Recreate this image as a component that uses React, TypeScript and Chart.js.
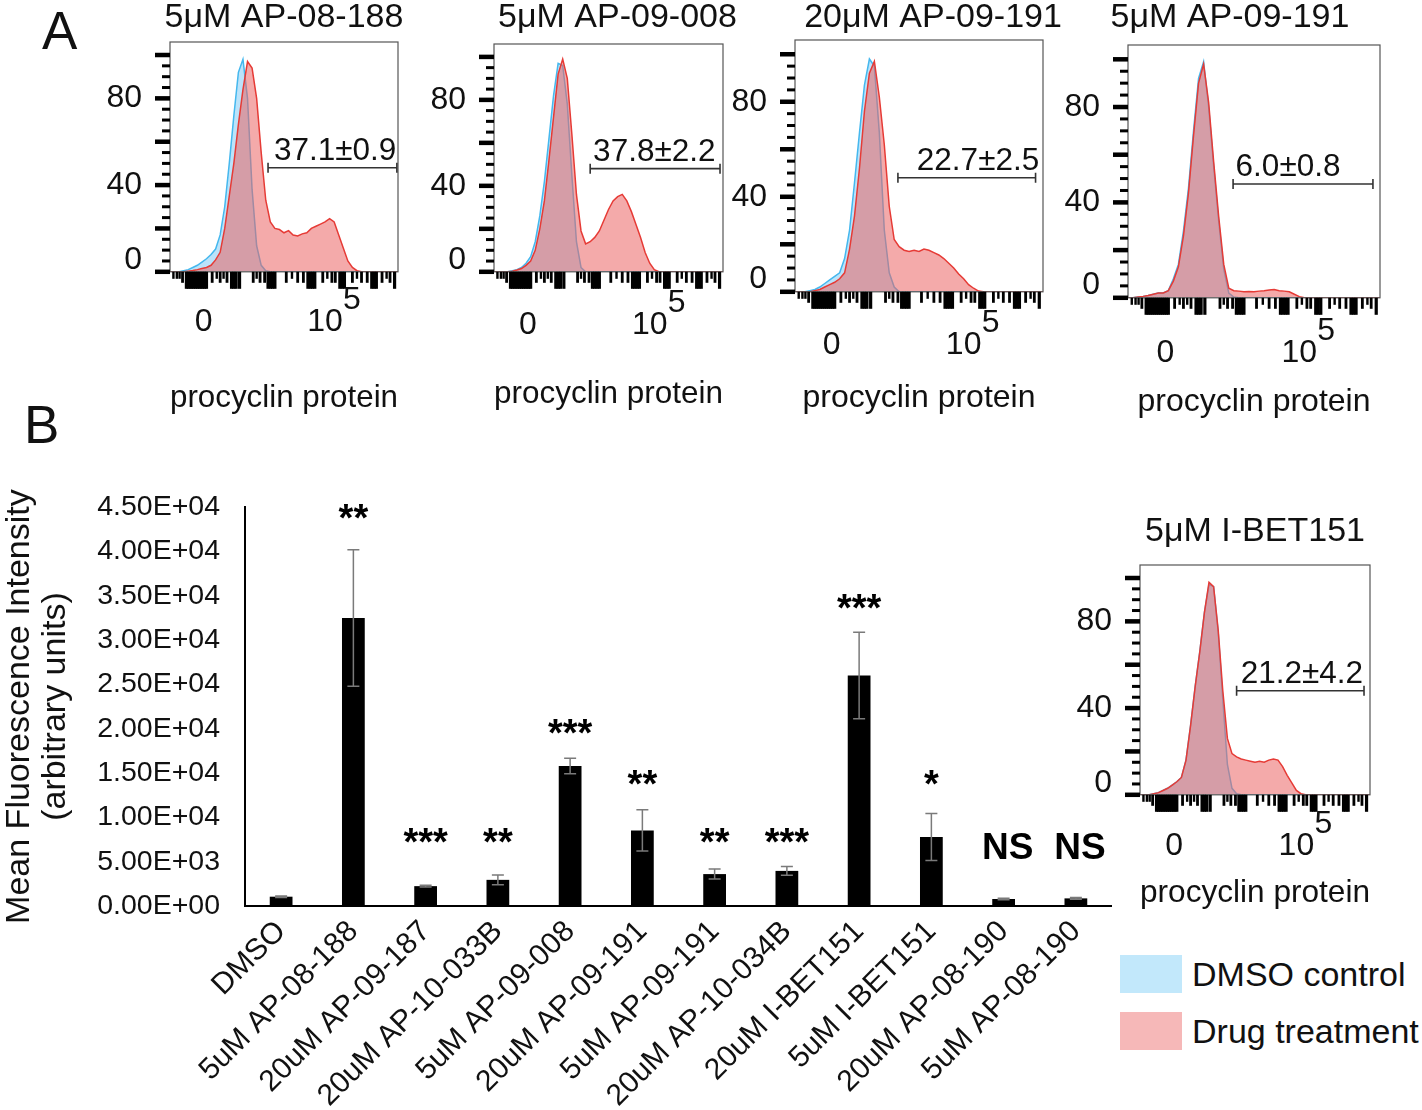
import React, { useEffect, useRef } from 'react';
import { Chart, registerables } from 'chart.js';
Chart.register(...registerables);

const FF = '"Liberation Sans", Arial, Helvetica, sans-serif';
Chart.defaults.font.family = FF;

// ---------- histogram data (x in % of axis width, y = % of max) ----------
const binX = [0, 2, 4, 6, 8, 10, 12, 14, 16, 18, 20, 22, 24, 26, 28, 30, 32, 34, 36, 38, 40, 42, 44, 46, 48, 50,
  52, 54, 56, 58, 60, 62, 64, 66, 68, 70, 72, 74, 76, 78, 80, 82, 84, 86, 88, 90, 92, 94, 96, 98, 100];

const p1Blue = [0, 0, 0, 0.5, 1, 2, 3, 4.5, 6, 8, 10.5, 17, 30, 50, 72, 92, 98, 80, 38, 12, 3, 0.5,
  0, 0, 0, 0, 0, 0, 0, 0, 0, 0, 0, 0, 0, 0, 0, 0, 0, 0, 0, 0, 0, 0, 0, 0, 0, 0, 0, 0, 0];
const p1Red = [0, 0, 0, 0, 0.3, 0.6, 1, 1.5, 2, 3, 5.5, 9, 20, 35, 50, 68, 84, 97, 94, 80, 55, 33, 23, 20, 19.5, 18,
  19, 17, 16.5, 17.5, 18, 20, 21, 22, 23, 24.5, 23, 17, 11, 5, 2, 0.5, 0, 0, 0, 0, 0, 0, 0, 0, 0];

const p2Blue = [0, 0, 0, 0, 0.5, 1, 2, 4, 7, 14, 26, 42, 62, 82, 97, 96, 78, 45, 14, 2, 0,
  0, 0, 0, 0, 0, 0, 0, 0, 0, 0, 0, 0, 0, 0, 0, 0, 0, 0, 0, 0, 0, 0, 0, 0, 0, 0, 0, 0, 0, 0];
const p2Red = [0, 0, 0, 0, 0.3, 0.8, 1.5, 3, 5, 10, 20, 33, 52, 72, 92, 99, 90, 64, 36, 19, 13, 14, 16, 19, 24, 29,
  33, 35, 36, 33, 28, 22, 16, 9, 4, 1, 0, 0, 0, 0, 0, 0, 0, 0, 0, 0, 0, 0, 0, 0, 0];

const p3Blue = [0, 0, 0, 0.5, 1, 2, 3.5, 5, 6.5, 8, 14, 26, 46, 67, 87, 98, 95, 67, 26, 8, 2, 0,
  0, 0, 0, 0, 0, 0, 0, 0, 0, 0, 0, 0, 0, 0, 0, 0, 0, 0, 0, 0, 0, 0, 0, 0, 0, 0, 0, 0, 0];
const p3Red = [0, 0, 0, 0, 0.5, 1, 2, 3, 4, 5.5, 8, 18, 32, 52, 76, 92, 97, 82, 62, 36, 22, 19, 17.5, 17, 17.5, 17,
  18, 17.5, 16.5, 15.5, 14, 12, 10, 7.5, 5.5, 3, 1.5, 0.3, 0, 0, 0, 0, 0, 0, 0, 0, 0, 0, 0, 0, 0];

const p4Blue = [0, 0, 0.3, 0.6, 1, 1.5, 2, 2, 3, 8, 14, 28, 46, 70, 92, 99, 80, 55, 32, 12, 2, 0.3,
  0, 0, 0, 0, 0, 0, 0, 0, 0, 0, 0, 0, 0, 0, 0, 0, 0, 0, 0, 0, 0, 0, 0, 0, 0, 0, 0, 0, 0];
const p4Red = [0, 0, 0.3, 0.6, 1, 1.5, 2, 2, 3, 7, 13, 26, 44, 68, 90, 98, 82, 57, 34, 14, 4, 3, 2.8, 2.5, 2.6, 2.5,
  2.8, 3, 3.3, 3.5, 3, 2.8, 2.5, 1.5, 0.5, 0, 0, 0, 0, 0, 0, 0, 0, 0, 0, 0, 0, 0, 0, 0, 0];

const p5Blue = [0, 0, 0, 0.5, 1, 2, 3, 4.5, 6, 8, 16, 32, 50, 66, 84, 97, 96, 75, 44, 14, 3, 0.5,
  0, 0, 0, 0, 0, 0, 0, 0, 0, 0, 0, 0, 0, 0, 0, 0, 0, 0, 0, 0, 0, 0, 0, 0, 0, 0, 0, 0, 0];
const p5Red = [0, 0, 0, 0.5, 1, 2, 3, 4.5, 6, 8, 16, 32, 50, 66, 84, 98, 96, 76, 48, 26, 19, 17.5, 16.5, 16, 15.5, 15,
  15.5, 15, 16, 16.5, 16, 13, 9, 5.5, 2, 0.5, 0, 0, 0, 0, 0, 0, 0, 0, 0, 0, 0, 0, 0, 0, 0];

const histTitles = ['5μM AP-08-188', '5μM AP-09-008', '20μM AP-09-191', '5μM AP-09-191', '5μM I-BET151'];
const histBlue = [p1Blue, p2Blue, p3Blue, p4Blue, p5Blue];
const histRed = [p1Red, p2Red, p3Red, p4Red, p5Red];
const gateStart = [43, 42, 41.5, 41.7, 42];
const gateEnd = [99.5, 98.7, 97, 97.2, 97.4];
const gateLevel = [48, 48, 48, 47.7, 48];
const gateText = ['37.1±0.9', '37.8±2.2', '22.7±2.5', '6.0±0.8', '21.2±4.2'];
const gateTextX = [72.4, 70, 73.8, 63.5, 70.4];

// y tick labels sit slightly above the true zero in the original figure
const histYLabelPos = [5.5, 40, 80];
const histYLabelText = ['0', '40', '80'];
const histYMarks = [0, 5, 10, 15, 20, 25, 30, 35, 40, 45, 50, 55, 60, 65, 70, 75, 80, 85, 90, 95, 100];
const histYMajorMarks = [0, 20, 40, 60, 80, 100];
const histXTickVals = [14.8, 68];
const histXTickLabels = ['0', '10'];
const histXExponent = '5';
const histXLongMarks = [7.2, 8, 8.8, 9.6, 10.4, 11.2, 12, 12.8, 13.6, 14.4, 15.2, 16, 27, 28, 29, 30.5, 43, 44, 45,
  46, 60.5, 61.5, 62.5, 63.5, 74.5, 75.5, 76.5, 88.5, 89.5, 90.5, 98.5];
const histXMidMarks = [5.5, 18.5, 22, 25, 36.5, 39.5, 41.5, 51, 56, 58.5, 67, 71, 72.5, 80, 84, 86.5, 93, 96.5];
const histXShortMarks = [1.5, 3, 4.2, 20.5, 23.5, 38, 53.5, 69, 82, 95];

// layout of the five histogram panels (plot box in page px)
const panels = [
  { l: 170, t: 42, w: 228, h: 230, titleGap: 24, titleDx: 0, labelGap: 50, titleBelow: 126 },
  { l: 494, t: 44, w: 229, h: 228, titleGap: 26, titleDx: 9, labelGap: 53, titleBelow: 122 },
  { l: 795, t: 40, w: 248, h: 252, titleGap: 22, titleDx: 14, labelGap: 53, titleBelow: 106 },
  { l: 1128, t: 45, w: 252, h: 253, titleGap: 27, titleDx: -24, labelGap: 55, titleBelow: 104 },
  { l: 1140, t: 565, w: 230, h: 230, titleGap: 33, titleDx: 0, labelGap: 51, titleBelow: 98 },
];

// ---------- bar chart data ----------
const barCategories = ['DMSO', '5uM AP-08-188', '20uM AP-09-187', '20uM AP-10-033B', '5uM AP-09-008',
  '20uM AP-09-191', '5uM AP-09-191', '20uM AP-10-034B', '20uM I-BET151', '5uM I-BET151',
  '20uM AP-08-190', '5uM AP-08-190'];
const barValues = [1050, 32500, 2240, 2950, 15800, 8530, 3600, 3960, 26000, 7780, 790, 860];
const barErrors = [80, 7700, 100, 560, 870, 2330, 560, 500, 4870, 2660, 80, 90];
const sigLabels = ['', '**', '***', '**', '***', '**', '**', '***', '***', '*', 'NS', 'NS'];
const sigLevels = [0, 44140, 7520, 7520, 19870, 14060, 7520, 7520, 34010, 14060, 6730, 6730];
const barYTicks = [0, 5000, 10000, 15000, 20000, 25000, 30000, 35000, 40000, 45000];

const BLUE_FILL = 'rgba(120,200,245,0.5)';
const BLUE_LINE = '#45b8ee';
const RED_FILL = 'rgba(235,100,100,0.55)';
const RED_LINE = '#e63b36';

const YW = 70;
const PAD_TOP = 48;
const PAD_RIGHT = 32;
const XFONT = 32;
const XLH = XFONT * 1.2;

function fmtSci(v: number) {
  if (v === 0) return '0.00E+00';
  const e = Math.floor(Math.log10(v));
  const m = v / Math.pow(10, e);
  return m.toFixed(2) + 'E+' + String(e).padStart(2, '0');
}

function HistPanel({ idx }: { idx: number }) {
  const ref = useRef<HTMLCanvasElement>(null);
  const p = panels[idx];
  const XH = p.titleBelow + XLH / 2;
  const cw = YW + p.w + PAD_RIGHT;
  const ch = PAD_TOP + p.h + XH;
  useEffect(() => {
    const decor = {
      id: 'histDecor' + idx,
      afterDraw(chart: any) {
        const { ctx, chartArea: a, scales } = chart;
        const x = scales.x, y = scales.y;
        ctx.save();
        ctx.strokeStyle = '#555';
        ctx.lineWidth = 1.2;
        ctx.strokeRect(a.left, a.top, a.right - a.left, a.bottom - a.top);
        ctx.fillStyle = '#000';
        histYMarks.forEach((v) => {
          const py = y.getPixelForValue(v);
          const major = histYMajorMarks.includes(v);
          const len = major ? 15 : 8;
          const w = major ? 4.5 : 3;
          ctx.fillRect(a.left - len, py - w / 2, len, w);
        });
        histXLongMarks.forEach((v) => {
          const px = x.getPixelForValue(v);
          ctx.fillRect(px - 1.6, a.bottom, 3.2, 17);
        });
        histXMidMarks.forEach((v) => {
          const px = x.getPixelForValue(v);
          ctx.fillRect(px - 1.4, a.bottom, 2.8, 11);
        });
        histXShortMarks.forEach((v) => {
          const px = x.getPixelForValue(v);
          ctx.fillRect(px - 1.2, a.bottom, 2.4, 7);
        });
        // gate
        const gx1 = x.getPixelForValue(gateStart[idx]);
        const gx2 = x.getPixelForValue(gateEnd[idx]);
        const gy = y.getPixelForValue(gateLevel[idx]);
        ctx.strokeStyle = '#333';
        ctx.lineWidth = 1.6;
        ctx.beginPath();
        ctx.moveTo(gx1, gy); ctx.lineTo(gx2, gy);
        ctx.moveTo(gx1, gy - 5); ctx.lineTo(gx1, gy + 5);
        ctx.moveTo(gx2, gy - 5); ctx.lineTo(gx2, gy + 5);
        ctx.stroke();
        ctx.fillStyle = '#111';
        ctx.font = '31.5px ' + FF;
        ctx.textAlign = 'center';
        ctx.textBaseline = 'alphabetic';
        ctx.fillText(gateText[idx], x.getPixelForValue(gateTextX[idx]), gy - 8);
        // title
        ctx.font = '34px ' + FF;
        ctx.textBaseline = 'middle';
        ctx.fillText(histTitles[idx], (a.left + a.right) / 2 + p.titleDx, a.top - p.titleGap);
        // exponent on 10^5
        const ex = x.getPixelForValue(histXTickVals[1]);
        ctx.font = XFONT + 'px ' + FF;
        ctx.textAlign = 'left';
        ctx.fillText(histXExponent, ex + 18, a.bottom + p.labelGap - 22);
        ctx.restore();
      },
    };
    const chart = new Chart(ref.current as HTMLCanvasElement, {
      type: 'line',
      data: {
        datasets: [
          {
            label: 'Drug treatment',
            data: binX.map((v, i) => ({ x: v, y: histRed[idx][i] })),
            borderColor: RED_LINE, backgroundColor: RED_FILL, borderWidth: 1.5,
            fill: 'origin', pointRadius: 0, tension: 0,
          },
          {
            label: 'DMSO control',
            data: binX.map((v, i) => ({ x: v, y: histBlue[idx][i] })),
            borderColor: BLUE_LINE, backgroundColor: BLUE_FILL, borderWidth: 1.5,
            fill: 'origin', pointRadius: 0, tension: 0,
          },
        ],
      },
      options: {
        responsive: false,
        animation: false,
        layout: { padding: { top: PAD_TOP, right: PAD_RIGHT, left: 0, bottom: 0 } },
        plugins: { legend: { display: false }, tooltip: { enabled: false } },
        scales: {
          x: {
            type: 'linear', min: 0, max: 100,
            grid: { display: false, drawTicks: false },
            border: { display: false },
            afterBuildTicks: (s: any) => { s.ticks = histXTickVals.map((v) => ({ value: v })); },
            afterFit: (s: any) => { s.height = XH; },
            ticks: {
              autoSkip: false, maxRotation: 0, padding: p.labelGap - XLH / 2,
              color: '#111', font: { size: XFONT },
              callback: (_v: any, i: number) => histXTickLabels[i],
            },
            title: { display: true, text: 'procyclin protein', color: '#111', font: { size: XFONT }, padding: { top: 0, bottom: 0 } },
          },
          y: {
            min: 0, max: 106,
            grid: { display: false, drawTicks: false },
            border: { display: false },
            afterBuildTicks: (s: any) => { s.ticks = histYLabelPos.map((v) => ({ value: v })); },
            afterFit: (s: any) => { s.width = YW; },
            ticks: {
              padding: 28, color: '#111', font: { size: XFONT },
              callback: (_v: any, i: number) => histYLabelText[i],
            },
          },
        },
      },
      plugins: [decor],
    } as any);
    return () => chart.destroy();
  }, []);
  return (
    <canvas ref={ref} width={cw} height={ch}
      style={{ position: 'absolute', left: p.l - YW, top: p.t - PAD_TOP, width: cw, height: ch }} />
  );
}

function BarPanel() {
  const ref = useRef<HTMLCanvasElement>(null);
  useEffect(() => {
    const decor = {
      id: 'barDecor',
      afterDatasetsDraw(chart: any) {
        const { ctx, scales } = chart;
        const x = scales.x, y = scales.y;
        ctx.save();
        ctx.strokeStyle = '#7a7a7a';
        ctx.lineWidth = 1.5;
        barValues.forEach((v, i) => {
          const e = barErrors[i];
          const px = x.getPixelForValue(i);
          const top = y.getPixelForValue(v + e);
          const bot = y.getPixelForValue(v - e);
          ctx.beginPath();
          ctx.moveTo(px, top); ctx.lineTo(px, bot);
          ctx.moveTo(px - 6, top); ctx.lineTo(px + 6, top);
          ctx.moveTo(px - 6, bot); ctx.lineTo(px + 6, bot);
          ctx.stroke();
        });
        ctx.fillStyle = '#000';
        ctx.textAlign = 'center';
        ctx.textBaseline = 'alphabetic';
        sigLabels.forEach((s, i) => {
          if (!s) return;
          const px = x.getPixelForValue(i);
          const py = y.getPixelForValue(sigLevels[i]);
          if (s === 'NS') {
            ctx.font = 'bold 37px ' + FF;
            ctx.fillText(s, px + 4, py + 13);
          } else {
            ctx.font = 'bold 38px ' + FF;
            ctx.fillText(s, px, py + 16);
          }
        });
        ctx.restore();
      },
    };
    const chart = new Chart(ref.current as HTMLCanvasElement, {
      type: 'bar',
      data: {
        labels: barCategories,
        datasets: [{
          label: 'Mean Fluorescence Intensity',
          data: barValues,
          backgroundColor: '#000',
          borderWidth: 0,
          barPercentage: 0.315,
          categoryPercentage: 1,
        }],
      },
      options: {
        responsive: false,
        animation: false,
        layout: { padding: { top: 15, right: 0, left: 0, bottom: 0 } },
        plugins: { legend: { display: false }, tooltip: { enabled: false } },
        scales: {
          x: {
            grid: { display: false, drawTicks: false },
            border: { display: true, color: '#000', width: 2 },
            afterFit: (s: any) => { s.height = 204; },
            ticks: {
              autoSkip: false, minRotation: 45, maxRotation: 45, padding: 8,
              color: '#111', font: { size: 30 },
            },
          },
          y: {
            min: 0, max: 45000,
            grid: { display: false, drawTicks: false },
            border: { display: true, color: '#000', width: 2 },
            afterBuildTicks: (s: any) => { s.ticks = barYTicks.map((v) => ({ value: v })); },
            afterFit: (s: any) => { s.width = 245; },
            ticks: {
              padding: 25, color: '#111', font: { size: 28.5 },
              callback: (v: any) => fmtSci(Number(v)),
            },
            title: {
              display: true,
              text: ['Mean Fluorescence Intensity', '(arbitrary units)'],
              color: '#111', font: { size: 34, lineHeight: 1.05 },
              padding: { top: 2, bottom: 0 },
            },
          },
        },
      },
      plugins: [decor],
    } as any);
    return () => chart.destroy();
  }, []);
  return (
    <canvas ref={ref} width={1112} height={645}
      style={{ position: 'absolute', left: 0, top: 465, width: 1112, height: 645 }} />
  );
}

const legendItems = ['DMSO control', 'Drug treatment'];
const legendColors = ['#c2e8fb', '#f6b8b8'];

export default function App() {
  return (
    <div style={{ position: 'absolute', left: 0, top: 0, width: 1422, height: 1110, background: '#fff', fontFamily: FF, overflow: 'hidden' }}>
      <div style={{ position: 'absolute', left: 42, top: 4, fontSize: 53, lineHeight: '53px', color: '#111' }}>A</div>
      <div style={{ position: 'absolute', left: 24, top: 398, fontSize: 53, lineHeight: '53px', color: '#111' }}>B</div>
      <BarPanel />
      {panels.map((_, i) => <HistPanel key={i} idx={i} />)}
      {legendItems.map((t, i) => (
        <div key={t} style={{ position: 'absolute', left: 1120, top: 955 + i * 57, height: 38, display: 'flex', alignItems: 'center', whiteSpace: 'nowrap' }}>
          <div style={{ width: 62, height: 38, background: legendColors[i], marginRight: 10 }} />
          <span style={{ fontSize: 34, color: '#111' }}>{t}</span>
        </div>
      ))}
    </div>
  );
}
